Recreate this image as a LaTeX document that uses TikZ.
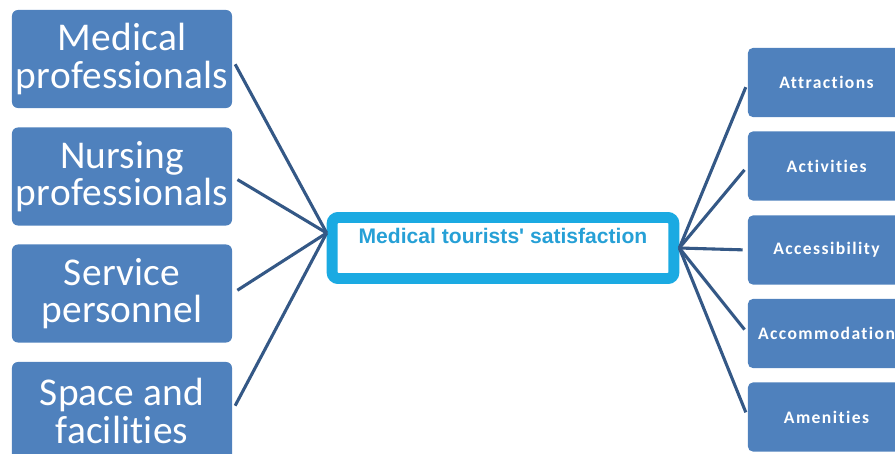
\documentclass[tikz,border=0pt]{standalone}
\usepackage{fontspec}
\setmainfont{Carlito}[Ligatures=NoCommon]
\newfontfamily\arialfont{Liberation Sans}
\usetikzlibrary{calc}
\definecolor{boxblue}{RGB}{79,129,189}
\definecolor{linkblue}{RGB}{52,88,134}
\definecolor{hubcyan}{RGB}{27,170,226}
\definecolor{hubtext}{RGB}{38,160,214}
\tikzset{
	leftbox/.style={fill=boxblue, rounded corners=0.15cm, minimum width=5.5cm, minimum height=2.45cm, inner sep=0pt, text=white, align=center, font=\fontsize{28}{26.5}\selectfont\addfontfeature{LetterSpace=0.5}},
	rightbox/.style={fill=boxblue, rounded corners=0.12cm, minimum width=3.925cm, minimum height=1.725cm, inner sep=0pt, text=white, font=\fontsize{12.5}{14}\selectfont\bfseries\addfontfeature{LetterSpace=8}},
	hubbox/.style={draw=hubcyan, line width=7.8pt, rounded corners=0.15cm, minimum width=8.54cm, minimum height=1.525cm, text=hubtext, font=\arialfont\bfseries\fontsize{15}{17}\selectfont, text height=11pt, text depth=17pt},
	link/.style={draw=linkblue, line width=2.2pt}
}

\begin{document}
\begin{tikzpicture}[x=0.025cm, y=-0.025cm]
		%%%%% START %%%%%
		
		\useasboundingbox (0, 0) rectangle (895, 454);
		\clip (0, 0) rectangle (895, 454);
		
		\node[hubbox] (hub) at (503, 248) {Medical tourists' satisfaction};
		
		\node[leftbox] (medic) at (122, 59) {Medical\\professionals};
		\node[leftbox] (nurse) at (122, 176.5) {Nursing\\professionals};
		\node[leftbox] (staff) at (122, 293.5) {Service\\personnel};
		\node[leftbox] (space) at (122, 411) {Space and\\facilities};
		
		\node[rightbox] (attr) at (826.5, 82.5) {Attractions};
		\node[rightbox] (acti) at (826.5, 166) {Activities};
		\node[rightbox] (acce) at (826.5, 250) {Accessibility};
		\node[rightbox] (acco) at (826.5, 333.5) {Accommodation};
		\node[rightbox] (amen) at (826.5, 417) {Amenities};
		
		\coordinate (hubleft) at ($(hub.west)+(0, -15)$);
		
		\draw[link, shorten <=0.15cm] (medic.east) -- (hubleft);
		\draw[link, shorten <=0.15cm] (nurse.east) -- (hubleft);
		\draw[link, shorten <=0.15cm] (staff.east) -- (hubleft);
		\draw[link, shorten <=0.15cm] (space.east) -- (hubleft);
		
		\draw[link, shorten >=0.125cm] (hub.east) -- (attr.west);
		\draw[link, shorten >=0.125cm] (hub.east) -- (acti.west);
		\draw[link, shorten >=0.125cm] (hub.east) -- (acce.west);
		\draw[link, shorten >=0.125cm] (hub.east) -- (acco.west);
		\draw[link, shorten >=0.125cm] (hub.east) -- (amen.west);
		
		%%%%% END %%%%%
\end{tikzpicture}
\end{document}
